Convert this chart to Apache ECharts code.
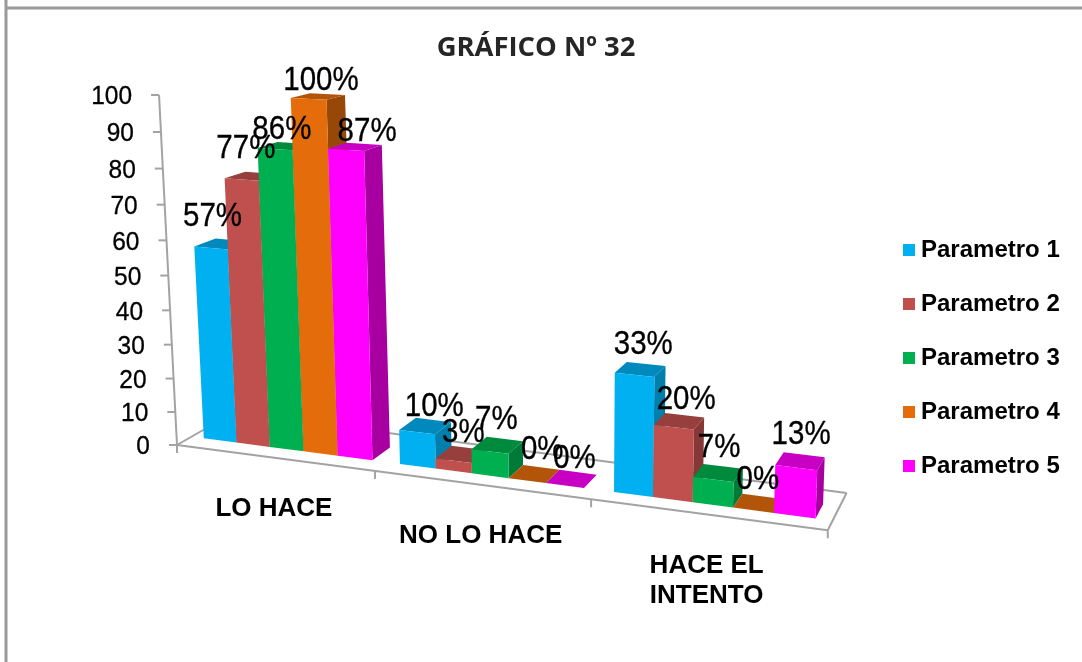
<!DOCTYPE html>
<html>
	<head>
		<meta charset="UTF-8">
		<title></title>
	</head>
	<body style="height: 100%; margin: 0; background: #fff">
		<div id="container" style="width: 1082px; height: 662px"></div>
		<script src="https://cdn.jsdelivr.net/npm/echarts@6/dist/echarts.min.js" type="text/javascript" charset="utf-8"></script>
		<script type="text/javascript">
			var categories = ['LO HACE', 'NO LO HACE', 'HACE EL\nINTENTO'];
			var seriesNames = ['Parametro 1', 'Parametro 2', 'Parametro 3', 'Parametro 4', 'Parametro 5'];
			var parametro1 = [57, 10, 33];
			var parametro2 = [77, 3, 20];
			var parametro3 = [86, 7, 7];
			var parametro4 = [100, 0, 0];
			var parametro5 = [87, 0, 13];
			var yTicks = [0, 10, 20, 30, 40, 50, 60, 70, 80, 90, 100];

			var values = [parametro1, parametro2, parametro3, parametro4, parametro5];
			// front, top, side
			var shades = [
				['#00B0F0', '#0089BC', '#007FAD'],
				['#C0504D', '#963F3C', '#853835'],
				['#00B050', '#008A3E', '#007A37'],
				['#E46C0A', '#B35508', '#974807'],
				['#FF00FF', '#C800C4', '#A800A0']
			];
			// hand moved data labels, [dx, dy] per category, same as in the original
			var labelNudge = [
				[[-12, -7], [6, 1], [0, -4]],
				[[-9, -7], [-1, -1], [4, -1]],
				[[-6, 4], [-4, -5], [-2, -5]],
				[[0, 5], [5, -4], [-3, -3]],
				[[9, 5], [0, 0], [-2, -6]]
			];
			var lineColor = '#A3A3A3';
			var gridLeft = 177, gridTop = 95, gridW = 650, gridH = 350;

			// flat grid pixel -> picture pixel, k = how far back towards the vanishing point
			function project(p, k) {
				var t = (p[0] - gridLeft) / (gridW / 3);
				var w = 1 - 0.0417 * t;
				var x = (182.4 * t + 177) / w;
				var flat = gridTop + gridH - p[1];
				var h = (0.9366 * flat + 0.000181 * flat * flat) / w;
				var y = 445 + 0.131 * (x - 177) - h;
				x += (x - 560) * h * 0.000134;
				return [x + k * (1152 - x), y + k * (-112 - y)];
			}

			var barStart = 0.065, barWidth = 0.173, kFront = 0.015, kBack = 0.037, kFloor = 0.058;

			function barItem(seriesIndex) {
				return function (params, api) {
					var cat = api.value(0), val = api.value(1);
					var t0 = cat + barStart + seriesIndex * barWidth, t1 = t0 + barWidth;
					var bl = api.coord([t0, 0]), br = api.coord([t1, 0]);
					var tl = api.coord([t0, val]), tr = api.coord([t1, val]);
					var c = shades[seriesIndex];
					function poly(pts, color) {
						return { type: 'polygon', shape: { points: pts }, style: { fill: color }, silent: true };
					}
					var mid = project(api.coord([(t0 + t1) / 2, val]), (kFront + kBack) / 2);
					var nudge = labelNudge[seriesIndex][cat];
					return {
						type: 'group',
						children: [
							poly([project(br, kFront), project(br, kBack), project(tr, kBack), project(tr, kFront)], c[2]),
							poly([project(tl, kFront), project(tl, kBack), project(tr, kBack), project(tr, kFront)], c[1]),
							poly([project(bl, kFront), project(br, kFront), project(tr, kFront), project(tl, kFront)], c[0]),
							{
								type: 'text',
								z2: 20,
								silent: true,
								x: mid[0] + 3 + nudge[0],
								y: mid[1] - 20 + nudge[1],
								scaleY: 1.1,
								style: {
									text: val + '%',
									fill: '#000',
									stroke: '#000',
									lineWidth: 0.3,
									font: '29.5px "Liberation Sans", Arial',
									align: 'center',
									verticalAlign: 'middle'
								}
							}
						]
					};
				};
			}

			function line(a, b) {
				return {
					type: 'line',
					silent: true,
					shape: { x1: a[0], y1: a[1], x2: b[0], y2: b[1] },
					style: { stroke: lineColor, lineWidth: 2 }
				};
			}

			function frameItem(params, api) {
				var kids = [];
				var o = api.coord([0, 0]), end = api.coord([3, 0]);
				// floor
				kids.push(line(project(o, 0), project(end, 0)));
				kids.push(line(project(o, 0), project(o, kFloor)));
				kids.push(line(project(end, 0), project(end, kFloor)));
				kids.push(line(project(o, kFloor), project(end, kFloor)));
				// value axis
				var top = project(api.coord([0, 100]), 0);
				kids.push(line(project(o, 0), top));
				yTicks.forEach(function (v) {
					var p = project(api.coord([0, v]), 0);
					kids.push(line([p[0] - 8, p[1]], p));
					kids.push({
						type: 'text',
						silent: true,
						x: p[0] - 27,
						y: p[1] + 2,
						scaleY: 1.08,
						style: {
							text: String(v),
							fill: '#000',
							stroke: '#000',
							lineWidth: 0.3,
							font: '24.5px "Liberation Sans", Arial',
							align: 'right',
							verticalAlign: 'middle'
						}
					});
				});
				// category ticks and labels
				for (var i = 0; i <= categories.length; i++) {
					var q = project(api.coord([i, 0]), 0);
					kids.push(line(q, [q[0], q[1] + 8]));
				}
				categories.forEach(function (name, i) {
					var m = project(api.coord([i + 0.5, 0]), 0);
					kids.push({
						type: 'text',
						silent: true,
						x: m[0],
						y: m[1] + 36,
						style: {
							text: name,
							fill: '#000',
							font: 'bold 26px "Liberation Sans", Arial',
							lineHeight: 30,
							align: 'center',
							verticalAlign: 'top'
						}
					});
				});
				return { type: 'group', children: kids };
			}

			var series = [{
				name: 'frame',
				type: 'custom',
				renderItem: frameItem,
				data: [[0, 0]],
				silent: true
			}];
			seriesNames.forEach(function (name, i) {
				series.push({
					name: name,
					type: 'custom',
					renderItem: barItem(i),
					itemStyle: { color: shades[i][0] },
					data: values[i].map(function (v, c) { return [c, v]; }),
					silent: true
				});
			});

			var myChart = echarts.init(document.getElementById('container'));
			var option = {
				animation: false,
				backgroundColor: '#fff',
				title: {
					text: 'GRÁFICO Nº 32',
					left: 531,
					top: 30,
					textAlign: 'center',
					textStyle: { fontFamily: 'Open Sans', fontWeight: 'bold', fontSize: 27.4, color: '#262626' }
				},
				legend: {
					data: seriesNames,
					orient: 'vertical',
					left: 898,
					top: 233,
					itemWidth: 12,
					itemHeight: 12,
					itemGap: 30,
					icon: 'rect',
					selectedMode: false,
					textStyle: { fontFamily: 'Liberation Sans', fontWeight: 'bold', fontSize: 24, color: '#000', padding: [0, 0, 0, 1] }
				},
				grid: { left: gridLeft, top: gridTop, width: gridW, height: gridH },
				xAxis: { type: 'value', min: 0, max: 3, show: false },
				yAxis: { type: 'value', min: 0, max: 100, interval: 10, show: false },
				graphic: [
					{ type: 'line', silent: true, shape: { x1: 6, y1: 8, x2: 1082, y2: 8 }, style: { stroke: '#9A9A9A', lineWidth: 3 } },
					{ type: 'line', silent: true, shape: { x1: 6, y1: 0, x2: 6, y2: 662 }, style: { stroke: '#9A9A9A', lineWidth: 3 } }
				],
				series: series
			};
			myChart.setOption(option);
		</script>
	</body>
</html>
